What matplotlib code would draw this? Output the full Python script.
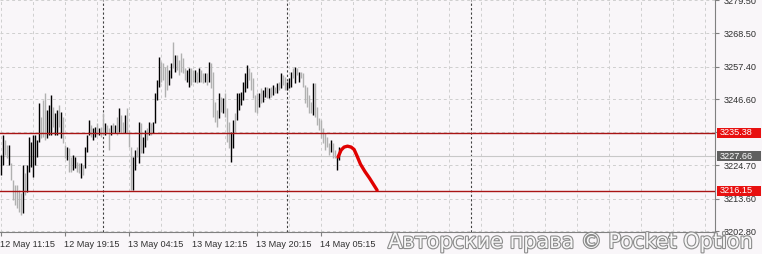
import numpy as np
import matplotlib
matplotlib.use("Agg")
import matplotlib.pyplot as plt
import matplotlib.patheffects as pe
from matplotlib.patches import Rectangle
from matplotlib.transforms import blended_transform_factory

# 15 minute bars (high / low, u = up bar, d = down bar)
highs = [
    3228.0, 3234.7, 3233.0, 3231.3, 3231.3, 3225.4, 3219.7, 3218.1, 3218.1, 3216.4,
    3215.4, 3224.7, 3222.0, 3224.7, 3234.0, 3232.3, 3234.7, 3234.7, 3233.0, 3245.3,
    3240.6, 3246.3, 3248.6, 3243.0, 3244.6, 3247.9, 3243.9, 3242.0, 3243.0, 3244.6,
    3242.3, 3240.6, 3231.3, 3230.7, 3230.3, 3227.4, 3228.0, 3227.4, 3225.7, 3225.4,
    3225.4, 3224.7, 3230.7, 3234.7, 3239.6, 3238.0, 3237.0, 3237.3, 3238.6, 3237.0,
    3237.3, 3242.0, 3238.6, 3238.0, 3237.0, 3238.0, 3238.6, 3238.0, 3240.6, 3243.6,
    3241.3, 3239.0, 3241.3, 3243.6, 3236.3, 3230.7, 3227.4, 3229.7, 3230.7, 3239.0,
    3238.6, 3234.0, 3236.3, 3237.0, 3239.0, 3238.6, 3239.0, 3248.6, 3252.9, 3260.5,
    3258.9, 3258.6, 3257.2, 3257.9, 3256.2, 3258.6, 3265.5, 3261.2, 3261.2, 3259.5,
    3261.9, 3260.2, 3256.9, 3256.2, 3256.9, 3256.9, 3256.2, 3256.2, 3255.6, 3256.9,
    3256.2, 3255.2, 3255.2, 3255.2, 3258.9, 3258.6, 3255.6, 3245.6, 3243.0, 3248.6,
    3247.3, 3246.9, 3248.6, 3243.6, 3239.0, 3235.7, 3239.6, 3242.0, 3248.6, 3248.6,
    3248.9, 3252.2, 3255.2, 3257.9, 3256.9, 3255.6, 3253.6, 3247.9, 3248.6, 3248.6,
    3250.3, 3249.6, 3250.6, 3250.6, 3250.3, 3250.6, 3251.3, 3250.6, 3251.9, 3252.2,
    3255.2, 3254.6, 3253.9, 3252.2, 3253.6, 3255.6, 3256.9, 3257.2, 3256.9, 3255.6,
    3255.6, 3255.2, 3251.3, 3250.6, 3247.9, 3245.6, 3251.9, 3251.9, 3243.9, 3240.3,
    3239.6, 3237.0, 3235.3, 3234.0, 3232.0, 3233.0, 3232.0, 3229.7, 3227.4, 3230.7,
]
lows = [
    3221.4, 3224.7, 3228.0, 3227.0, 3224.7, 3219.7, 3213.1, 3211.4, 3210.4, 3209.1,
    3208.1, 3208.8, 3214.8, 3215.8, 3222.4, 3224.0, 3220.7, 3224.7, 3227.4, 3232.3,
    3233.7, 3234.0, 3233.0, 3233.7, 3234.7, 3234.7, 3237.3, 3234.7, 3234.7, 3237.3,
    3233.7, 3232.0, 3227.0, 3226.4, 3222.4, 3222.4, 3223.0, 3223.7, 3222.4, 3222.0,
    3220.4, 3221.4, 3223.7, 3229.0, 3234.7, 3234.0, 3233.0, 3234.0, 3234.7, 3234.7,
    3234.0, 3234.7, 3234.7, 3235.3, 3229.7, 3234.7, 3235.3, 3235.3, 3234.7, 3235.7,
    3235.3, 3235.3, 3235.3, 3235.3, 3230.7, 3216.4, 3216.4, 3223.0, 3227.4, 3225.4,
    3228.7, 3228.7, 3230.7, 3233.0, 3234.7, 3234.7, 3235.3, 3238.6, 3246.3, 3250.6,
    3252.2, 3252.9, 3247.3, 3249.6, 3251.3, 3253.6, 3256.9, 3255.6, 3256.2, 3254.6,
    3255.6, 3255.2, 3252.9, 3252.2, 3250.6, 3251.3, 3252.2, 3252.2, 3251.9, 3252.2,
    3252.2, 3251.9, 3252.2, 3251.3, 3252.2, 3250.3, 3240.6, 3239.0, 3237.3, 3240.3,
    3242.3, 3242.0, 3240.6, 3232.3, 3230.3, 3225.7, 3230.3, 3235.7, 3239.6, 3243.0,
    3244.6, 3246.3, 3248.9, 3250.3, 3252.9, 3249.6, 3246.9, 3242.3, 3242.0, 3243.9,
    3245.3, 3245.6, 3247.3, 3246.9, 3246.9, 3247.3, 3247.9, 3248.6, 3248.6, 3249.6,
    3250.3, 3251.3, 3249.6, 3249.6, 3250.3, 3250.6, 3253.6, 3251.9, 3254.6, 3252.2,
    3253.6, 3250.6, 3245.3, 3243.9, 3242.0, 3242.0, 3241.3, 3240.6, 3238.0, 3236.3,
    3233.7, 3232.0, 3229.7, 3230.7, 3228.0, 3229.0, 3227.0, 3227.0, 3223.0, 3226.4,
]
directions = (
    "uudduddddd" "duduuuuuuu" "ddduuuduud" "uddudduudd" "uduuuduudu"
    "dduddududu" "dduddduudu" "duududuuuu" "dddduududd" "ddduuddudu"
    "ddududdddu" "duddduuduu" "uuuudddddu" "duudududud" "udduuududu"
    "dddddduddd" "dddddudduu"
)

tick_bars = [0, 32, 64, 96, 128, 160]
tick_labels = ["12 May 11:15", "12 May 19:15", "13 May 04:15",
               "13 May 12:15", "13 May 20:15", "14 May 05:15"]
day_breaks = [51, 143, 235]

price_ticks = [3279.50, 3268.50, 3257.40, 3246.60, 3235.80, 3224.70, 3213.60, 3202.80]
levels = [3235.38, 3216.15]
last_price = 3227.66

# hand drawn forecast stroke
sketch_x = [168.8, 170.3, 171.8, 173.5, 175.3, 176.8, 178.3, 180.0, 182.3, 184.5, 188.3]
sketch_y = [3227.4, 3229.7, 3230.7, 3231.0, 3230.7, 3229.9, 3227.7, 3225.0, 3222.5, 3220.4, 3216.4]

BG = "#f9f6f9"
PX = 0.3318  # price per pixel

fig = plt.figure(figsize=(7.62, 2.54), dpi=100, facecolor=BG)
ax = fig.add_axes([0, 22 / 254, 715 / 762, 232 / 254], facecolor=BG)

ax.set_xlim(-0.25, 357.25)
ax.set_ylim(3279.5 - 232 * PX, 3279.5)

# grid
for gx in range(0, 358, 16):
    ax.axvline(gx, color="#cfcfcf", lw=0.7, ls=(0, (3, 3)), zorder=0)
for gy in price_ticks:
    ax.axhline(gy, color="#cfcfcf", lw=0.7, ls=(0, (3, 3)), zorder=0)
for d in day_breaks:
    ax.axvline(d, color="#404040", lw=0.8, ls=(0, (2, 2)), zorder=1)

# bars
xs = np.arange(len(highs))
ups = np.array([c == "u" for c in directions])
h = np.array(highs)
l = np.array(lows)
ax.vlines(xs[ups], l[ups], h[ups], color="black", lw=1.0, zorder=3)
ax.vlines(xs[~ups], l[~ups], h[~ups], color="#b0b0b0", lw=1.0, zorder=3)

# levels
for lv in levels:
    ax.axhline(lv, color="#a81414", lw=1.0, zorder=4)
ax.axhline(last_price, color="#c8c8c8", lw=0.8, zorder=2)

ax.plot(sketch_x, sketch_y, color="#e00000", lw=2.4, solid_capstyle="round",
        solid_joinstyle="round", zorder=6)

# axes
for s in ["top", "left"]:
    ax.spines[s].set_visible(False)
for s in ["right", "bottom"]:
    ax.spines[s].set_color("#808080")
    ax.spines[s].set_linewidth(0.8)

ax.yaxis.tick_right()
ax.set_yticks(price_ticks)
ax.set_yticklabels([f"{p:.2f}" for p in price_ticks], fontfamily="Liberation Sans",
                   fontsize=6.6, color="#303030")
ax.tick_params(axis="y", length=3, pad=3, color="#808080", width=0.8)

ax.set_xticks(tick_bars)
ax.set_xticklabels(tick_labels, fontfamily="Liberation Sans", fontsize=6.6,
                   color="#303030", ha="left")
ax.tick_params(axis="x", length=3, pad=3, color="#808080", width=0.8)

# price labels on the axis
tr = blended_transform_factory(ax.transAxes, ax.transData)
box_x0 = 2 / 715
box_w = 44 / 715
box_h = 10 * PX
for price, fc in [(levels[0], "#e81010"), (last_price, "#606060"), (levels[1], "#e81010")]:
    ax.add_patch(Rectangle((1 + box_x0, price - box_h / 2), box_w, box_h, transform=tr,
                           fc=fc, ec="none", clip_on=False, zorder=9))
    ax.text(1 + 5 / 715, price, f"{price:.2f}", transform=tr, va="center", ha="left",
            fontfamily="Liberation Sans", fontsize=6.6, color="white", zorder=10,
            clip_on=False)

# watermark
fig.text(388 / 762, 2 / 254, "Авторские права © Pocket Option", fontfamily="DejaVu Sans",
         fontsize=15, color="#f7f7f7", ha="left", va="bottom",
         path_effects=[pe.Stroke(linewidth=1.6, foreground="#8c8c8c"), pe.Normal()])

fig.savefig("out.png", dpi=100, facecolor=BG)
